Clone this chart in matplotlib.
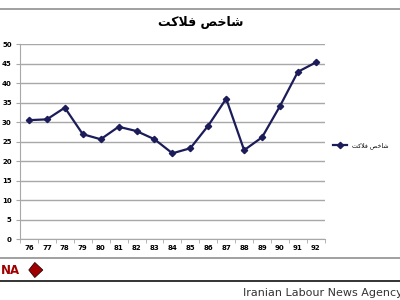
import matplotlib.pyplot as plt
import numpy as np
from matplotlib.patches import Polygon

# data
years = ["76", "77", "78", "79", "80", "81", "82", "83", "84",
         "85", "86", "87", "88", "89", "90", "91", "92"]
misery = [30.5, 30.7, 33.7, 26.9, 25.6, 28.8, 27.7, 25.6, 22.0,
          23.3, 29.1, 36.0, 22.8, 26.1, 34.1, 42.9, 45.3]

# "شاخص فلاکت" written with Arabic presentation forms, in display order
title = "\ufe96\ufb90\ufefc\ufed3 \ufeba\ufea7\ufe8e\ufeb7"

line_col = "#1c1c5a"
grid_col = "#a8a8a8"

fig = plt.figure(figsize=(4, 3), dpi=100)
ax = fig.add_axes([0.05, 0.203, 0.762, 0.65])

x = np.arange(len(years))
ax.plot(x, misery, color=line_col, lw=1.6, marker="D", ms=3.2, label=title)

ax.set_xlim(-0.5, len(years) - 0.5)
ax.set_ylim(0, 50)
ax.set_yticks(range(0, 51, 5))
ax.set_xticks(x)
ax.set_xticklabels(years)
ax.set_xticks(np.arange(-0.5, len(years), 1), minor=True)
ax.tick_params(axis="x", which="major", length=0, labelsize=5, pad=4)
ax.tick_params(axis="x", which="minor", length=3, color=grid_col)
ax.tick_params(axis="y", length=3, color=grid_col, labelsize=5, pad=3)
for lab in ax.get_xticklabels() + ax.get_yticklabels():
    lab.set_fontweight("bold")

ax.grid(axis="y", color=grid_col, lw=1)
ax.set_axisbelow(True)
for s in ["top", "right"]:
    ax.spines[s].set_visible(False)
ax.spines["left"].set_color(grid_col)
ax.spines["bottom"].set_color(grid_col)

ax.set_title(title, fontsize=9, fontweight="bold", pad=13, x=0.593)

ax.legend(loc="center left", bbox_to_anchor=(1.02, 0.48), frameon=False,
          fontsize=4.5, handlelength=2.2, borderaxespad=0)

# page decorations around the chart
fig.add_artist(plt.Line2D([0, 1], [0.97, 0.97], color="#909090", lw=1.2))
fig.add_artist(plt.Line2D([0, 1], [0.14, 0.14], color="#909090", lw=1.2))
fig.add_artist(plt.Line2D([0, 1], [0.063, 0.063], color="#111111", lw=1.2))
fig.text(0.003, 0.1, "NA", color="#a00000", fontsize=8.5, fontweight="bold",
         va="center", ha="left")
fig.add_artist(Polygon([[0.072, 0.1], [0.087, 0.125], [0.107, 0.1],
                        [0.087, 0.075]], closed=True, transform=fig.transFigure,
                       facecolor="#a00000", edgecolor="#300000", lw=0.6))
fig.text(0.608, 0.025, "Iranian Labour News Agency", fontsize=8,
         color="#333333", va="center", ha="left")

fig.savefig("out.png", dpi=100)
